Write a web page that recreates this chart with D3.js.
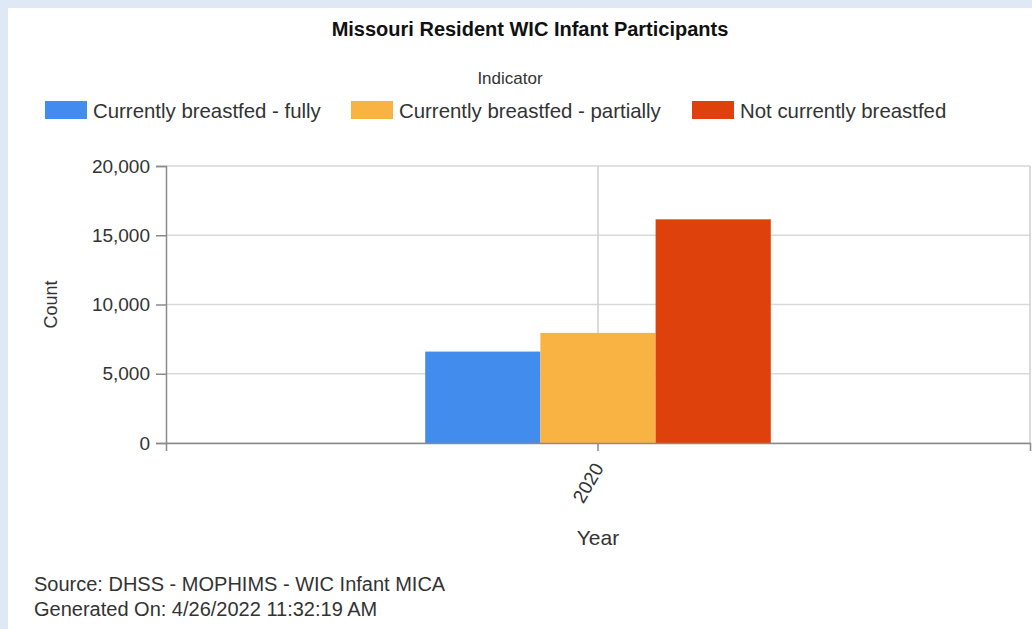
<!DOCTYPE html>
<html>
<head>
<meta charset="utf-8">
<script src="https://cdn.jsdelivr.net/npm/d3@7"></script>
<style>
  body { margin: 0; background: #dfe9f5; font-family: "Liberation Sans", Arial, sans-serif; }
  #panel { position: absolute; left: 8px; top: 8px; width: 1024px; height: 621px; background: #fff; }
  svg { position: absolute; left: 0; top: 0; }
</style>
</head>
<body>
<div id="panel"></div>
<script>
const years = ["2020"];
const indicators = ["Currently breastfed - fully", "Currently breastfed - partially", "Not currently breastfed"];
const counts = [6600, 7950, 16150];
const colors = ["#418cec", "#f9b342", "#de410c"];
const yTicks = [0, 5000, 10000, 15000, 20000];

const width = 1032;
const height = 629;
const margin = { top: 166, right: 2, bottom: 186, left: 166 };

const svg = d3.select("body")
  .append("svg")
  .attr("width", width)
  .attr("height", height);

const x = d3.scaleBand()
  .domain(years)
  .range([margin.left, width - margin.right]);

const inner = d3.scaleBand()
  .domain(indicators)
  .range([0, x.bandwidth()])
  .paddingOuter(2.25);

const y = d3.scaleLinear()
  .domain([0, 20000])
  .range([height - margin.bottom, margin.top]);

// grid
svg.append("g")
  .selectAll("line")
  .data(yTicks)
  .join("line")
  .attr("x1", margin.left)
  .attr("x2", width - margin.right)
  .attr("y1", (d) => y(d))
  .attr("y2", (d) => y(d))
  .attr("stroke", "#d9d9d9")
  .attr("stroke-width", 1.5);

svg.append("g")
  .selectAll("line")
  .data(years)
  .join("line")
  .attr("x1", (d) => x(d) + x.bandwidth() / 2)
  .attr("x2", (d) => x(d) + x.bandwidth() / 2)
  .attr("y1", margin.top)
  .attr("y2", height - margin.bottom)
  .attr("stroke", "#cfcfcf")
  .attr("stroke-width", 1.5);

svg.append("line")
  .attr("x1", width - margin.right)
  .attr("x2", width - margin.right)
  .attr("y1", margin.top)
  .attr("y2", height - margin.bottom)
  .attr("stroke", "#cfcfcf")
  .attr("stroke-width", 1.5);

// bars
svg.append("g")
  .selectAll("rect")
  .data(indicators)
  .join("rect")
  .attr("x", (d) => x(years[0]) + inner(d))
  .attr("width", inner.bandwidth())
  .attr("y", (d, i) => y(counts[i]))
  .attr("height", (d, i) => y(0) - y(counts[i]))
  .attr("fill", (d, i) => colors[i]);

// axes
const yAxis = svg.append("g")
  .attr("transform", `translate(${margin.left},0)`)
  .call(d3.axisLeft(y).tickValues(yTicks).tickSizeOuter(0).tickSize(10).tickPadding(6).tickFormat(d3.format(",")));

const xAxis = svg.append("g")
  .attr("transform", `translate(0,${height - margin.bottom})`)
  .call(d3.axisBottom(x).tickSize(8).tickSizeOuter(8));

[yAxis, xAxis].forEach((g) => {
  g.selectAll("path, line").attr("stroke", "#8a8a8a").attr("stroke-width", 1.5);
  g.selectAll("text")
    .attr("fill", "#333")
    .style("font-family", "'Liberation Sans', Arial, sans-serif")
    .style("font-size", "19px");
});

xAxis.selectAll("text")
  .attr("text-anchor", "end")
  .attr("dy", "0.35em")
  .attr("transform", "translate(-9,16) rotate(-60)");

// axis titles
svg.append("text")
  .attr("transform", `translate(57,${(margin.top + height - margin.bottom) / 2}) rotate(-90)`)
  .attr("text-anchor", "middle")
  .attr("fill", "#333")
  .style("font-size", "18px")
  .text("Count");

svg.append("text")
  .attr("x", x(years[0]) + x.bandwidth() / 2)
  .attr("y", 545)
  .attr("text-anchor", "middle")
  .attr("fill", "#333")
  .style("font-size", "21px")
  .text("Year");

// title
svg.append("text")
  .attr("x", 530)
  .attr("y", 36)
  .attr("text-anchor", "middle")
  .attr("fill", "#111")
  .style("font-size", "20px")
  .style("font-weight", "bold")
  .text("Missouri Resident WIC Infant Participants");

// legend
svg.append("text")
  .attr("x", 510)
  .attr("y", 84)
  .attr("text-anchor", "middle")
  .attr("fill", "#333")
  .style("font-size", "17px")
  .text("Indicator");

const legendX = [45, 351, 692];
const legend = svg.append("g")
  .selectAll("g")
  .data(indicators)
  .join("g")
  .attr("transform", (d, i) => `translate(${legendX[i]},101)`);

legend.append("rect")
  .attr("width", 42)
  .attr("height", 18)
  .attr("fill", (d, i) => colors[i]);

legend.append("text")
  .attr("x", 48)
  .attr("y", 17)
  .attr("fill", "#333")
  .style("font-size", "20.4px")
  .text((d) => d);

// footer
svg.append("g")
  .selectAll("text")
  .data(["Source: DHSS - MOPHIMS - WIC Infant MICA", "Generated On: 4/26/2022 11:32:19 AM"])
  .join("text")
  .attr("x", 34)
  .attr("y", (d, i) => 591 + i * 25)
  .attr("fill", "#333")
  .style("font-size", "20px")
  .text((d) => d);
</script>
</body>
</html>
